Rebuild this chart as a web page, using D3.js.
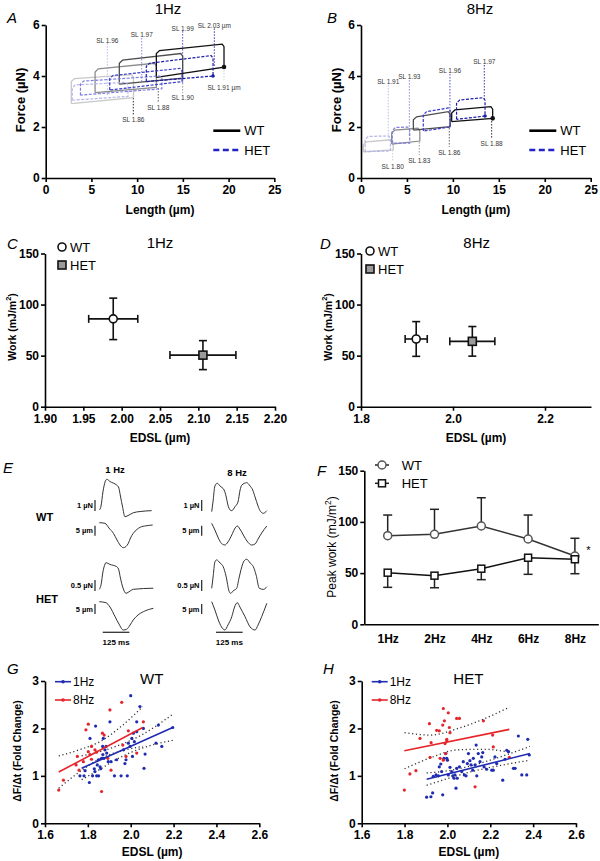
<!DOCTYPE html>
<html><head><meta charset="utf-8">
<script src="https://cdn.jsdelivr.net/npm/d3@7"></script>
<style>body{margin:0;background:#fff}svg{display:block}text{font-family:"Liberation Sans",Arial,sans-serif}</style>
</head><body><svg id="c" width="600" height="861"></svg>
<script>
// ---------------- DATA ----------------
// Panel A/B work loops: [Lmin, Lmax, F top-left, F top-right, F bottom-right, F bottom-left]
const A_WT_LOOPS = [[12.1,19.5,5.0,5.25,4.35,3.95],[8.05,14.98,4.62,4.88,3.92,3.68],[5.4,12.1,4.28,4.5,3.55,3.35],[2.8,9.6,3.9,4.05,3.15,2.92]];
const A_HET_LOOPS = [[11.0,18.3,4.5,4.8,4.0,3.78],[7.0,14.9,4.02,4.3,3.78,3.45],[3.8,12.7,3.8,4.0,3.5,3.25],[2.9,9.0,3.65,3.75,3.2,3.05]];
const B_WT_LOOPS = [[9.87,14.33,2.67,2.8,2.34,2.21],[5.7,9.7,2.4,2.6,2.01,1.88],[3.34,6.4,1.88,1.95,1.45,1.33],[0.25,3.5,1.42,1.5,1.1,1.03]];
const B_HET_LOOPS = [[10.4,13.5,3.06,3.15,2.43,2.3],[6.78,9.7,2.6,2.75,2.0,1.84],[3.4,5.3,1.98,2.0,1.37,1.37],[0.45,3.2,1.63,1.65,1.06,1.03]];
// sarcomere length markers: [label, L, Ftop, Fbottom, labelF]
const A_SL = [["SL 1.96",6.74,5.29,3.25,5.41],["SL 1.97",10.5,5.49,3.76,5.63],["SL 1.99",14.98,5.76,3.73,5.87],["SL 2.03 µm",18.44,5.87,4.35,6.0],
              ["SL 1.91 µm",19.5,4.35,3.84,3.56],["SL 1.90",14.98,3.96,3.33,3.15],["SL 1.88",12.31,3.53,2.94,2.76],["SL 1.86",9.58,3.14,2.47,2.3]];
const B_SL = [["SL 1.91",2.97,3.65,1.49,3.8],["SL 1.93",5.26,3.84,1.65,3.97],["SL 1.96",9.68,4.08,2.0,4.22],["SL 1.97",13.42,4.43,3.06,4.57],
              ["SL 1.80",3.45,1.1,0.64,0.44],["SL 1.83",6.34,1.41,0.9,0.7],["SL 1.86",9.61,1.96,1.22,0.99],["SL 1.88",14.22,2.35,1.57,1.36]];
const FORCE_TICKS = [0,2,4,6];
const LENGTH_TICKS = [0,5,10,15,20,25];
const GROUPS = ["WT","HET"];

// Panel C/D: work vs EDSL [EDSL, EDSL err, Work, Work err]
const C_POINTS = [[1.989,0.032,86,20.3],[2.106,0.043,50.5,14.2]];
const D_POINTS = [[1.92,0.024,66.3,17],[2.042,0.049,64,14.5]];
const C_XTICKS = [1.90,1.95,2.00,2.05,2.10,2.15,2.20];
const D_XTICKS = [1.8,2.0,2.2];
const WORK_TICKS = [0,50,100,150];

// Panel E traces: [time ms, value] (force in µN, length in µm, relative to baseline)
const E_WT1_F = [[0,0],[8,0.36],[17,1.64],[27,2.55],[35,2.79],[50,2.59],[81,2.27],[90,2.09],[99,1.27],[109,0.27],[120,-0.61],[130,-0.55],[159,-0.25],[191,-0.14],[245,-0.06]];
const E_WT1_L = [[0,0],[27,-0.3],[45,-2.65],[66,-5.3],[83,-8.65],[97,-11.15],[112,-12.5],[125,-11.9],[136,-10.3],[146,-7.65],[159,-5.3],[176,-3.4],[191,-2.3],[219,-1.55],[250,-1.15]];
const E_HET1_F = [[0,0],[8,0.2],[17,0.79],[27,1.15],[31,1.21],[50,1.13],[81,1.03],[90,0.92],[99,0.51],[111,0.06],[125,-0.18],[144,-0.08],[159,0],[253,0.05]];
const E_HET1_L = [[0,0],[31,-0.5],[50,-2.65],[74,-7.5],[92,-11.15],[112,-14.15],[128,-13.8],[144,-11.65],[159,-9.15],[181,-6.65],[206,-5],[253,-3.3]];
const E_WT8_F = [[0,-0.15],[6,0.73],[15,2.18],[26,2.43],[39,2.18],[58,1.82],[67,1.27],[76,0.45],[86,0],[94,-0.06],[109,0.3],[123,0.73],[133,1.82],[141,2.27],[164,2.48],[180,2.18],[192,1.82],[203,1.18],[217,0.36],[226,-0.06],[242,-0.3],[258,-0.06]];
const E_WT8_L = [[0,0],[15,-3.35],[31,-7.35],[46,-10.1],[62,-10.85],[76,-9.35],[94,-5.85],[107,-2.85],[120,-1.35],[132,-2.85],[148,-5.85],[165,-8.85],[187,-10.85],[203,-10.35],[217,-7.85],[234,-4.85],[258,-1.35]];
const E_HET8_F = [[0,0],[6,0.47],[15,1.2],[23,1.29],[39,1.15],[54,0.98],[67,0.56],[82,-0.15],[89,-0.23],[100,-0.12],[117,0],[128,0.47],[141,0.98],[151,1.24],[164,1.32],[180,1.15],[195,0.98],[208,0.6],[223,0],[242,-0.05],[258,0.07]];
const E_HET8_L = [[0,0],[15,-4.15],[31,-9.15],[46,-12.65],[62,-14.15],[76,-11.65],[94,-7.5],[107,-2.65],[120,-0.5],[132,-2.65],[156,-7.5],[180,-12.65],[203,-14.15],[217,-11.65],[234,-7.5],[258,-0.8]];
const E_FORCE_BARS = ["1 µN","0.5 µN"];

// Panel F: peak work by frequency
const F_FREQS = ["1Hz","2Hz","4Hz","6Hz","8Hz"];
const F_WT = [86.5,87.9,96,83.3,66.7];
const F_WT_ERR = [20.2,24.4,27.6,23.4,17.3];
const F_HET = [50.4,47.5,54.3,65,63.5];
const F_HET_ERR = [14.3,11.8,10.7,16.2,14.1];

// Panel G/H: dF/dt fold change vs EDSL
const G_1HZ = [[1.763,1.0],[1.782,1.0],[1.787,1.11],[1.807,0.86],[1.81,1.79],[1.822,1.0],[1.833,1.09],[1.836,2.05],[1.841,1.0],[1.844,1.23],[1.849,1.34],[1.857,1.19],[1.864,1.37],[1.869,1.62],[1.872,1.79],[1.875,1.37],[1.88,1.55],[1.885,1.62],[1.888,1.48],[1.903,2.14],[1.908,1.3],[1.924,1.0],[1.934,1.34],[1.955,1.0],[1.966,1.55],[1.973,1.26],[1.978,1.34],[1.984,1.0],[1.989,1.69],[1.997,1.62],[2.0,2.69],[2.005,1.79],[2.008,1.41],[2.012,1.9],[2.017,1.72],[2.028,2.14],[2.028,1.93],[2.043,2.46],[2.059,2.0],[2.062,1.16],[2.067,1.46],[2.118,1.69],[2.129,2.07],[2.145,1.62],[2.196,2.02],[1.85,1.0],[1.86,1.15],[1.83,1.15],[1.87,1.45],[1.895,1.3]];
const G_8HZ = [[1.664,0.70],[1.686,0.91],[1.745,1.23],[1.751,1.41],[1.759,1.12],[1.779,1.3],[1.791,1.97],[1.802,2.09],[1.802,1.51],[1.817,1.62],[1.817,1.35],[1.833,1.55],[1.864,0.67],[1.868,1.9],[1.876,1.86],[1.903,2.39],[1.908,1.12],[1.958,2.55],[1.963,1.65],[1.978,1.41],[1.989,1.95],[2.028,1.48],[2.059,2.14],[1.893,1.37],[1.81,1.45],[1.84,1.5]];
const G_1HZ_FIT = [[1.771,1.16],[2.196,2.02]];
const G_8HZ_FIT = [[1.664,1.08],[2.056,2.02]];
const G_1HZ_CI_UP = [[1.771,1.42],[1.85,1.5],[1.93,1.62],[2.05,1.86],[2.196,2.3]];
const G_1HZ_CI_LO = [[1.771,0.92],[1.85,1.12],[1.93,1.34],[2.05,1.58],[2.196,1.75]];
const G_8HZ_CI_UP = [[1.664,1.42],[1.76,1.55],[1.86,1.73],[1.96,2.06],[2.056,2.46]];
const G_8HZ_CI_LO = [[1.664,0.74],[1.76,1.08],[1.86,1.37],[1.96,1.53],[2.056,1.62]];
const H_1HZ = [[1.903,0.55],[1.923,0.56],[1.931,0.64],[1.934,0.99],[1.947,1.02],[1.958,1.0],[1.962,1.19],[1.969,1.25],[1.973,1.09],[1.978,0.6],[1.984,1.37],[1.992,1.47],[1.997,1.37],[2.0,1.33],[2.004,1.02],[2.012,1.18],[2.02,1.09],[2.025,1.0],[2.031,0.95],[2.035,1.02],[2.04,0.74],[2.043,1.16],[2.046,0.95],[2.056,1.19],[2.067,1.09],[2.074,1.3],[2.079,1.02],[2.087,1.0],[2.093,1.26],[2.098,1.47],[2.105,1.32],[2.11,1.23],[2.118,1.12],[2.121,1.37],[2.129,1.23],[2.134,1.65],[2.137,1.0],[2.144,1.47],[2.152,1.3],[2.16,1.4],[2.165,1.49],[2.171,1.19],[2.183,1.14],[2.207,1.12],[2.214,1.12],[2.222,1.4],[2.23,1.26],[2.258,0.91],[2.269,1.35],[2.277,1.54],[2.285,1.51],[2.308,1.16],[2.316,1.16],[2.331,1.84],[2.347,1.02],[2.37,1.02],[2.375,1.77],[2.382,1.44]];
const H_8HZ = [[1.799,0.7],[1.825,1.04],[1.853,1.11],[1.872,1.79],[1.916,2.1],[1.919,1.39],[1.924,1.7],[1.95,1.96],[1.962,1.95],[1.978,2.07],[1.981,2.42],[1.986,2.16],[1.989,1.68],[1.992,1.47],[1.997,1.74],[1.997,1.77],[2.004,2.33],[2.009,2.02],[2.012,1.91],[2.043,2.21],[2.056,2.21],[2.129,0.77],[2.168,2.16],[2.211,1.86],[2.214,1.61],[2.289,1.39],[1.981,1.33],[1.966,1.37]];
const H_1HZ_FIT = [[1.903,0.93],[2.385,1.47]];
const H_8HZ_FIT = [[1.799,1.53],[2.289,1.98]];
const H_1HZ_CI_UP = [[1.903,1.06],[2.02,1.12],[2.14,1.25],[2.26,1.42],[2.385,1.62]];
const H_1HZ_CI_LO = [[1.903,0.8],[2.02,0.97],[2.14,1.12],[2.26,1.23],[2.385,1.33]];
const H_8HZ_CI_UP = [[1.8,1.91],[1.92,1.86],[2.05,2.0],[2.17,2.2],[2.29,2.45]];
const H_8HZ_CI_LO = [[1.8,1.15],[1.92,1.38],[2.05,1.55],[2.17,1.56],[2.29,1.5]];
const EDSL_TICKS = [1.6,1.8,2.0,2.2,2.4,2.6];
const FOLD_TICKS = [0,1,2,3];
const FREQ_SERIES = ["1Hz","8Hz"];

// ---------------- DRAW ----------------
const svg = d3.select("#c");
const BLUE = "#1f2bb0", RED = "#e5252a";

function styleAxis(g, fs, bold=true) {
  g.attr("font-family",'"Liberation Sans",Arial,sans-serif');
  g.select(".domain").attr("stroke","#000").attr("stroke-width",1.6);
  g.selectAll(".tick line").attr("stroke","#000").attr("stroke-width",1.6);
  g.selectAll(".tick text").attr("font-size",fs).attr("font-weight",bold?"bold":"normal").attr("fill","#000");
}
function axes(x, y, xt, yt, xfmt, yfmt, fs=12, xpad=3) {
  const gx = svg.append("g").attr("transform",`translate(0,${y.range()[0]})`)
    .call(d3.axisBottom(x).tickValues(xt).tickFormat(xfmt).tickSize(4).tickSizeOuter(0).tickPadding(xpad));
  styleAxis(gx, fs);
  const gy = svg.append("g").attr("transform",`translate(${x.range()[0]},0)`)
    .call(d3.axisLeft(y).tickValues(yt).tickFormat(yfmt).tickSize(4).tickSizeOuter(0).tickPadding(2));
  styleAxis(gy, fs);
}
function txt(x,y,s,o={}) {
  const t = svg.append("text").attr("x",x).attr("y",y).text(s)
    .attr("font-size",o.fs||12).attr("text-anchor",o.anchor||"start")
    .attr("dominant-baseline","central").attr("fill",o.fill||"#000");
  if (o.bold) t.attr("font-weight","bold");
  if (o.italic) t.attr("font-style","italic");
  if (o.rot) t.attr("transform",`rotate(-90,${x},${y})`);
  return t;
}
function ylabelSup(x,y,pre,sup,post,fs,bold) {
  const t = svg.append("text").attr("transform",`translate(${x},${y}) rotate(-90)`)
    .attr("text-anchor","middle").attr("dominant-baseline","central").attr("font-size",fs)
    .attr("font-weight",bold?"bold":"normal");
  t.append("tspan").text(pre);
  t.append("tspan").text(sup).attr("font-size",fs*0.7).attr("dy",-fs*0.35);
  t.append("tspan").text(post).attr("dy",fs*0.35);
}

// ---- Panels A & B ----
const WT_SHADES = ["#111","#4d4d4d","#8c8c8c","#c8c8c8"];
const HET_SHADES = ["#1c1ca8","#3b3bcc","#7d7de0","#b4b4ee"];
function loopPanel(x0,x1,loopsWT,loopsHET,sls,title,titleX,letter,letterX,legX) {
  const x = d3.scaleLinear().domain([0,25]).range([x0,x1]);
  const y = d3.scaleLinear().domain([0,6]).range([178,25]);
  const line = d3.line().x(d=>x(d[0])).y(d=>y(d[1]));
  const loopPts = l => [[l[0],l[5]],[l[0],l[2]-0.12],[l[0]+0.35,l[2]],[l[1]-0.2,l[3]],[l[1],l[3]-0.1],[l[1],l[4]],[l[0],l[5]]];
  sls.forEach((s,i)=>{
    const col = i<4 ? HET_SHADES[3-i] : WT_SHADES[7-i];
    svg.append("line").attr("x1",x(s[1])).attr("x2",x(s[1])).attr("y1",y(s[2])).attr("y2",y(s[3]))
      .attr("stroke",col).attr("stroke-width",0.9).attr("stroke-dasharray","1.5,1.5");
    txt(x(s[1]),y(s[4]),s[0],{fs:6.5,anchor:"middle",fill:"#333"});
  });
  loopsWT.slice().reverse().forEach((l,i)=>{
    svg.append("path").attr("d",line(loopPts(l))).attr("fill","none")
      .attr("stroke",WT_SHADES[loopsWT.length-1-i]).attr("stroke-width",1.3);
  });
  loopsHET.slice().reverse().forEach((l,i)=>{
    svg.append("path").attr("d",line(loopPts(l))).attr("fill","none")
      .attr("stroke",HET_SHADES[loopsHET.length-1-i]).attr("stroke-width",1.2).attr("stroke-dasharray","3,1.5");
  });
  svg.append("circle").attr("cx",x(loopsWT[0][1])).attr("cy",y(loopsWT[0][4])).attr("r",2.3).attr("fill","#111");
  svg.append("circle").attr("cx",x(loopsHET[0][1])).attr("cy",y(loopsHET[0][4])).attr("r",1.8).attr("fill",HET_SHADES[0]);
  axes(x,y,LENGTH_TICKS,FORCE_TICKS,d3.format("d"),d3.format("d"),12);
  txt(titleX,8,title,{fs:15,anchor:"middle"});
  txt(letterX,17,letter,{fs:15,italic:true});
  txt(x0-25,100,"Force (µN)",{fs:13,bold:true,anchor:"middle",rot:true});
  txt((x0+x1)/2,210,"Length (µm)",{fs:12,bold:true,anchor:"middle"});
  GROUPS.forEach((g,i)=>{
    const ly = 130.7 + i*19.3;
    svg.append("line").attr("x1",legX).attr("x2",legX+27).attr("y1",ly).attr("y2",ly)
      .attr("stroke",i?"#2222c8":"#000").attr("stroke-width",2.6).attr("stroke-dasharray",i?"6,3.5":null);
    txt(legX+31,ly,g,{fs:13});
  });
}
loopPanel(45.7,274.3,A_WT_LOOPS,A_HET_LOOPS,A_SL,"1Hz",168,"A",7,213.3);
loopPanel(361,590.7,B_WT_LOOPS,B_HET_LOOPS,B_SL,"8Hz",480,"B",327,529.3);

// ---- Panels C & D ----
function workPanel(x0,x1,dom,xt,xfmt,pts,title,titleX,letter,letterX,legX,legY) {
  const x = d3.scaleLinear().domain(dom).range([x0,x1]);
  const y = d3.scaleLinear().domain([0,150]).range([406.7,253.5]);
  axes(x,y,xt,WORK_TICKS,xfmt,d3.format("d"),12,4);
  pts.forEach((p,i)=>{
    const g = svg.append("g").attr("stroke","#111").attr("stroke-width",1.6);
    g.append("line").attr("x1",x(p[0]-p[1])).attr("x2",x(p[0]+p[1])).attr("y1",y(p[2])).attr("y2",y(p[2]));
    g.append("line").attr("x1",x(p[0])).attr("x2",x(p[0])).attr("y1",y(p[2]-p[3])).attr("y2",y(p[2]+p[3]));
    [p[0]-p[1],p[0]+p[1]].forEach(v=>g.append("line").attr("x1",x(v)).attr("x2",x(v)).attr("y1",y(p[2])-4).attr("y2",y(p[2])+4));
    [p[2]-p[3],p[2]+p[3]].forEach(v=>g.append("line").attr("x1",x(p[0])-4).attr("x2",x(p[0])+4).attr("y1",y(v)).attr("y2",y(v)));
    if (i===0) g.append("circle").attr("cx",x(p[0])).attr("cy",y(p[2])).attr("r",4).attr("fill","#fff");
    else g.append("rect").attr("x",x(p[0])-4).attr("y",y(p[2])-4).attr("width",8).attr("height",8).attr("fill","#9a9a9a");
  });
  GROUPS.forEach((gname,i)=>{
    const ly = legY + i*18;
    if (i===0) svg.append("circle").attr("cx",legX).attr("cy",ly).attr("r",4).attr("fill","#fff").attr("stroke","#111").attr("stroke-width",1.6);
    else svg.append("rect").attr("x",legX-4).attr("y",ly-4).attr("width",8).attr("height",8).attr("fill","#9a9a9a").attr("stroke","#111").attr("stroke-width",1.6);
    txt(legX+8,ly,gname,{fs:13});
  });
  txt(titleX,242,title,{fs:15,anchor:"middle"});
  txt(letterX,243,letter,{fs:15,italic:true});
  ylabelSup(x0-33,327,"Work (mJ/m","2",")",10.5,true);
  txt((x0+x1)/2,438,"EDSL (µm)",{fs:12,bold:true,anchor:"middle"});
}
workPanel(45,275,[1.9,2.2],C_XTICKS,d3.format(".2f"),C_POINTS,"1Hz",160,"C",7,62,247);
workPanel(361,591,[1.8,2.3],D_XTICKS,d3.format(".1f"),D_POINTS,"8Hz",476.7,"D",320,370,251);

// ---- Panel E ----
txt(3,467,"E",{fs:15,italic:true});
const eT = ms => ms*26.7/125;
function trace(data,x0,base,pxPerUnit) {
  const x = d3.scaleLinear().domain([0,125]).range([x0,x0+eT(125)]);
  const y = d3.scaleLinear().domain([0,1]).range([base,base-pxPerUnit]);
  svg.append("path").attr("d",d3.line().x(d=>x(d[0])).y(d=>y(d[1])).curve(d3.curveMonotoneX)(data))
    .attr("fill","none").attr("stroke","#333").attr("stroke-width",1);
}
trace(E_WT1_F,99.3,510,11); trace(E_WT1_L,99.3,522.7,2);
trace(E_HET1_F,99.3,589.3,22); trace(E_HET1_L,99.3,601.7,2);
trace(E_WT8_F,211.7,510,11); trace(E_WT8_L,211.7,523.3,2);
trace(E_HET8_F,211.7,588.3,22); trace(E_HET8_L,211.7,601.7,2);
txt(115,469,"1 Hz",{fs:9.5,bold:true,anchor:"middle"});
txt(237,472,"8 Hz",{fs:9.5,bold:true,anchor:"middle"});
txt(36,517,"WT",{fs:11,bold:true});
txt(36,599,"HET",{fs:11,bold:true});
[[95,93],[201.7,199.5]].forEach(([bx,lx])=>{
  [[500,511,E_FORCE_BARS[0]],[525.7,535.7,"5 µm"],[580,591,E_FORCE_BARS[1]],[604,614,"5 µm"]].forEach(b=>{
    svg.append("line").attr("x1",bx).attr("x2",bx).attr("y1",b[0]).attr("y2",b[1]).attr("stroke","#222").attr("stroke-width",1.2);
    txt(lx,(b[0]+b[1])/2,b[2],{fs:7.5,bold:true,anchor:"end"});
  });
});
[[99.3,16],[211.7,20]].forEach(([x0,t0])=>{
  svg.append("line").attr("x1",x0+eT(t0)).attr("x2",x0+eT(t0+125)).attr("y1",632.3).attr("y2",632.3).attr("stroke","#333").attr("stroke-width",1.3);
  txt(x0+eT(t0+62.5),642,"125 ms",{fs:8,bold:true,anchor:"middle"});
});

// ---- Panel F ----
(function(){
  const x = d3.scalePoint().domain(F_FREQS).range([364.3,598.3]).padding(0.5);
  const y = d3.scaleLinear().domain([0,150]).range([624.3,470.7]);
  const gx = svg.append("g").attr("transform","translate(0,624.3)")
    .call(d3.axisBottom(x).tickSize(0).tickSizeOuter(0).tickPadding(10));
  styleAxis(gx,12);
  const gy = svg.append("g").attr("transform","translate(364.3,0)")
    .call(d3.axisLeft(y).tickValues(WORK_TICKS).tickSize(4).tickSizeOuter(0).tickPadding(2));
  styleAxis(gy,12);
  const line = d3.line().x((d,i)=>x(F_FREQS[i])).y(d=>y(d));
  F_FREQS.forEach((f,i)=>{
    const cx = x(f);
    [[F_WT[i],F_WT[i]+F_WT_ERR[i]],[F_HET[i],F_HET[i]-F_HET_ERR[i]]].forEach(([a,b])=>{
      svg.append("line").attr("x1",cx).attr("x2",cx).attr("y1",y(a)).attr("y2",y(b)).attr("stroke","#222").attr("stroke-width",1.5);
      svg.append("line").attr("x1",cx-4.5).attr("x2",cx+4.5).attr("y1",y(b)).attr("y2",y(b)).attr("stroke","#222").attr("stroke-width",1.5);
    });
  });
  svg.append("path").attr("d",line(F_WT)).attr("fill","none").attr("stroke","#333").attr("stroke-width",1.5);
  svg.append("path").attr("d",line(F_HET)).attr("fill","none").attr("stroke","#111").attr("stroke-width",1.5);
  F_WT.forEach((v,i)=>svg.append("circle").attr("cx",x(F_FREQS[i])).attr("cy",y(v)).attr("r",4).attr("fill","#fff").attr("stroke","#555").attr("stroke-width",1.5));
  F_HET.forEach((v,i)=>svg.append("rect").attr("x",x(F_FREQS[i])-3.5).attr("y",y(v)-3.5).attr("width",7).attr("height",7).attr("fill","#fff").attr("stroke","#111").attr("stroke-width",1.5));
  txt(588.3,550,"*",{fs:11,anchor:"middle"});
  GROUPS.forEach((g,i)=>{
    const ly = 465 + i*18.3;
    svg.append("line").attr("x1",375).attr("x2",389).attr("y1",ly).attr("y2",ly).attr("stroke","#222").attr("stroke-width",1.5);
    if (i===0) svg.append("circle").attr("cx",382).attr("cy",ly).attr("r",4).attr("fill","#fff").attr("stroke","#555").attr("stroke-width",1.5);
    else svg.append("rect").attr("x",378.5).attr("y",ly-3.5).attr("width",7).attr("height",7).attr("fill","#fff").attr("stroke","#111").attr("stroke-width",1.5);
    txt(401.7,ly,g,{fs:13});
  });
  txt(317,470,"F",{fs:15,italic:true});
  ylabelSup(331.7,547,"Peak work (mJ/m","2",")",12,false);
})();

// ---- Panels G & H ----
function foldPanel(x0,x1,p1,p8,fit1,fit8,u1,l1,u8,l8,title,titleX,letter,letterX,legX) {
  const x = d3.scaleLinear().domain([1.6,2.6]).range([x0,x1]);
  const y = d3.scaleLinear().domain([0,3]).range([823.3,681]);
  axes(x,y,EDSL_TICKS,FOLD_TICKS,d3.format(".1f"),d3.format("d"),12);
  const line = d3.line().x(d=>x(d[0])).y(d=>y(d[1]));
  const curve = d3.line().x(d=>x(d[0])).y(d=>y(d[1])).curve(d3.curveMonotoneX);
  [u1,l1,u8,l8].forEach(b=>svg.append("path").attr("d",curve(b)).attr("fill","none")
    .attr("stroke","#333").attr("stroke-width",1.3).attr("stroke-dasharray","1.2,2.6"));
  p1.forEach(d=>svg.append("circle").attr("cx",x(d[0])).attr("cy",y(d[1])).attr("r",1.6).attr("fill",BLUE));
  p8.forEach(d=>svg.append("circle").attr("cx",x(d[0])).attr("cy",y(d[1])).attr("r",1.6).attr("fill",RED));
  svg.append("path").attr("d",line(fit1)).attr("stroke",BLUE).attr("stroke-width",1.6).attr("fill","none");
  svg.append("path").attr("d",line(fit8)).attr("stroke",RED).attr("stroke-width",1.6).attr("fill","none");
  FREQ_SERIES.forEach((s,i)=>{
    const ly = 681.7 + i*18.3, col = i?RED:BLUE;
    svg.append("line").attr("x1",legX).attr("x2",legX+16).attr("y1",ly).attr("y2",ly).attr("stroke",col).attr("stroke-width",1.6);
    svg.append("circle").attr("cx",legX+8).attr("cy",ly).attr("r",1.8).attr("fill",col);
    txt(legX+18,ly,s,{fs:12});
  });
  txt(titleX,678,title,{fs:15,anchor:"middle"});
  txt(letterX,668,letter,{fs:15,italic:true});
  txt(x0-28,751,"ΔF/Δt (Fold Change)",{fs:10.5,bold:true,anchor:"middle",rot:true});
  txt((x0+x1)/2,852,"EDSL (µm)",{fs:12,bold:true,anchor:"middle"});
}
foldPanel(45,259.3,G_1HZ,G_8HZ,G_1HZ_FIT,G_8HZ_FIT,G_1HZ_CI_UP,G_1HZ_CI_LO,G_8HZ_CI_UP,G_8HZ_CI_LO,"WT",151.7,"G",7,55);
foldPanel(361.7,576,H_1HZ,H_8HZ,H_1HZ_FIT,H_8HZ_FIT,H_1HZ_CI_UP,H_1HZ_CI_LO,H_8HZ_CI_UP,H_8HZ_CI_LO,"HET",468.3,"H",323,371.7);
</script></body></html>
